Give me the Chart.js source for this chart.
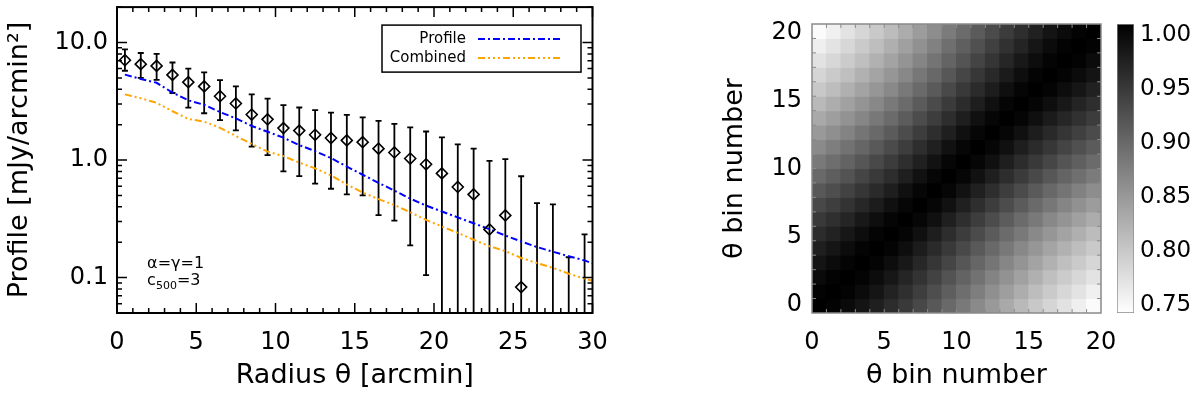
<!DOCTYPE html>
<html>
<head>
<meta charset="utf-8">
<script src="https://cdn.jsdelivr.net/npm/chart.js@4.4.1/dist/chart.umd.min.js"></script>
<style>
  html, body { margin: 0; padding: 0; background: #fff; }
  #wrap { position: relative; width: 1200px; height: 394px; overflow: hidden; }
  #wrap canvas { position: absolute; top: 0; }
</style>
</head>
<body>
<div id="wrap">
  <canvas id="profileChart" width="610" height="394" style="left:0px"></canvas>
  <canvas id="covChart" width="477" height="394" style="left:640px"></canvas>
  <canvas id="barChart" width="100" height="394" style="left:1100px"></canvas>
</div>
<script>
// ---------------- DATA ----------------

// radial bins [arcmin]
const radius = [0.5, 1.5, 2.5, 3.5, 4.5, 5.5, 6.5, 7.5, 8.5, 9.5, 10.5, 11.5, 12.5, 13.5, 14.5,
  15.5, 16.5, 17.5, 18.5, 19.5, 20.5, 21.5, 22.5, 23.5, 24.5, 25.5, 26.5, 27.5, 28.5, 29.5];

// measured profile (null = below the plotted range)
const profileData = [7.07, 6.54, 6.32, 5.30, 4.60, 4.23, 3.49, 3.03, 2.44, 2.22, 1.87, 1.78, 1.64, 1.54, 1.47,
  1.42, 1.25, 1.16, 1.03, 0.92, 0.77, 0.59, 0.51, 0.257, 0.338, 0.083, null, null, null, null];
const errUpper = [8.73, 8.14, 8.0, 6.76, 6.0, 5.57, 4.78, 4.23, 3.62, 3.33, 2.93, 2.80, 2.66, 2.53, 2.42,
  2.31, 2.15, 2.03, 1.90, 1.75, 1.56, 1.36, 1.25, 0.985, 1.02, 0.728, 0.43, 0.42, 0.149, 0.233];
// 0.01 = lower end falls below the axis
const errLower = [5.75, 5.0, 4.8, 3.72, 2.79, 2.5, 2.19, 1.79, 1.30, 1.10, 0.80, 0.73, 0.63, 0.57, 0.51,
  0.50, 0.34, 0.305, 0.188, 0.105, 0.01, 0.01, 0.01, 0.01, 0.01, 0.01, 0.01, 0.01, 0.01, 0.01];

// model curves
const modelRadius = [0.5, 1.5, 2.5, 3.5, 4.5, 5.5, 6.5, 7.5, 8.5, 9.5, 10.5, 11.5, 12.5, 13.5, 14.5,
  15.5, 16.5, 17.5, 18.5, 19.5, 20.5, 21.5, 22.5, 23.5, 24.5, 25.5, 26.5, 27.5, 28.5, 29.5, 30];
const profileModel = [5.33, 4.90, 4.54, 3.75, 3.22, 2.95, 2.56, 2.26, 1.95, 1.74, 1.55, 1.34, 1.19, 1.04, 0.88,
  0.75, 0.64, 0.55, 0.47, 0.41, 0.365, 0.325, 0.29, 0.258, 0.228, 0.203, 0.182, 0.166, 0.152, 0.14, 0.132];
const combinedModel = [3.62, 3.35, 3.07, 2.60, 2.24, 2.12, 1.88, 1.60, 1.37, 1.18, 1.08, 0.95, 0.85, 0.74, 0.62,
  0.53, 0.465, 0.415, 0.36, 0.31, 0.272, 0.24, 0.21, 0.185, 0.168, 0.147, 0.133, 0.121, 0.108, 0.098, 0.094];

const yTickValues = [0.1, 1, 10];
const yTickText = ['0.1', '1.0', '10.0'];

// text labels inside the profile panel: [main, subscript, tail]
const annotText = [['α=γ=1', '', ''], ['c', '500', '=3']];
const annotX = [1.9, 1.9];
const annotY = [0.13, 0.094];

const legendItems = ['Profile', 'Combined'];

// correlation matrix, rows = y bin (0 at bottom), columns = x bin
const binNumbers = [0, 1, 2, 3, 4, 5, 6, 7, 8, 9, 10, 11, 12, 13, 14, 15, 16, 17, 18, 19];
const corrMatrix = [
  [1.000, 0.997, 0.990, 0.980, 0.970, 0.957, 0.944, 0.929, 0.914, 0.897, 0.881, 0.865, 0.850, 0.834, 0.819, 0.804, 0.791, 0.778, 0.766, 0.754],
  [0.997, 1.000, 0.997, 0.989, 0.979, 0.967, 0.954, 0.939, 0.924, 0.908, 0.892, 0.876, 0.860, 0.845, 0.830, 0.815, 0.802, 0.789, 0.777, 0.765],
  [0.990, 0.997, 1.000, 0.996, 0.988, 0.977, 0.964, 0.950, 0.935, 0.919, 0.903, 0.888, 0.872, 0.857, 0.842, 0.827, 0.813, 0.801, 0.789, 0.777],
  [0.980, 0.989, 0.996, 1.000, 0.996, 0.987, 0.976, 0.962, 0.947, 0.932, 0.916, 0.900, 0.885, 0.869, 0.855, 0.840, 0.826, 0.813, 0.802, 0.790],
  [0.970, 0.979, 0.988, 0.996, 1.000, 0.996, 0.986, 0.973, 0.959, 0.944, 0.928, 0.913, 0.897, 0.882, 0.867, 0.853, 0.839, 0.826, 0.814, 0.803],
  [0.957, 0.967, 0.977, 0.987, 0.996, 1.000, 0.995, 0.984, 0.971, 0.956, 0.941, 0.926, 0.911, 0.895, 0.881, 0.866, 0.853, 0.840, 0.828, 0.816],
  [0.944, 0.954, 0.964, 0.976, 0.986, 0.995, 1.000, 0.994, 0.984, 0.970, 0.955, 0.940, 0.925, 0.910, 0.895, 0.881, 0.867, 0.855, 0.843, 0.831],
  [0.929, 0.939, 0.950, 0.962, 0.973, 0.984, 0.994, 1.000, 0.994, 0.983, 0.969, 0.955, 0.940, 0.925, 0.911, 0.896, 0.883, 0.870, 0.858, 0.847],
  [0.914, 0.924, 0.935, 0.947, 0.959, 0.971, 0.984, 0.994, 1.000, 0.994, 0.982, 0.969, 0.955, 0.940, 0.926, 0.912, 0.898, 0.886, 0.874, 0.862],
  [0.897, 0.908, 0.919, 0.932, 0.944, 0.956, 0.970, 0.983, 0.994, 1.000, 0.994, 0.983, 0.970, 0.956, 0.942, 0.928, 0.915, 0.902, 0.891, 0.879],
  [0.881, 0.892, 0.903, 0.916, 0.928, 0.941, 0.955, 0.969, 0.982, 0.994, 1.000, 0.994, 0.984, 0.971, 0.957, 0.944, 0.931, 0.918, 0.907, 0.895],
  [0.865, 0.876, 0.888, 0.900, 0.913, 0.926, 0.940, 0.955, 0.969, 0.983, 0.994, 1.000, 0.994, 0.984, 0.971, 0.958, 0.946, 0.933, 0.922, 0.911],
  [0.850, 0.860, 0.872, 0.885, 0.897, 0.911, 0.925, 0.940, 0.955, 0.970, 0.984, 0.994, 1.000, 0.994, 0.984, 0.972, 0.960, 0.948, 0.937, 0.926],
  [0.834, 0.845, 0.857, 0.869, 0.882, 0.895, 0.910, 0.925, 0.940, 0.956, 0.971, 0.984, 0.994, 1.000, 0.995, 0.985, 0.974, 0.963, 0.952, 0.941],
  [0.819, 0.830, 0.842, 0.855, 0.867, 0.881, 0.895, 0.911, 0.926, 0.942, 0.957, 0.971, 0.984, 0.995, 1.000, 0.995, 0.986, 0.976, 0.965, 0.955],
  [0.804, 0.815, 0.827, 0.840, 0.853, 0.866, 0.881, 0.896, 0.912, 0.928, 0.944, 0.958, 0.972, 0.985, 0.995, 1.000, 0.996, 0.987, 0.978, 0.968],
  [0.791, 0.802, 0.813, 0.826, 0.839, 0.853, 0.867, 0.883, 0.898, 0.915, 0.931, 0.946, 0.960, 0.974, 0.986, 0.996, 1.000, 0.996, 0.989, 0.980],
  [0.778, 0.789, 0.801, 0.813, 0.826, 0.840, 0.855, 0.870, 0.886, 0.902, 0.918, 0.933, 0.948, 0.963, 0.976, 0.987, 0.996, 1.000, 0.997, 0.989],
  [0.766, 0.777, 0.789, 0.802, 0.814, 0.828, 0.843, 0.858, 0.874, 0.891, 0.907, 0.922, 0.937, 0.952, 0.965, 0.978, 0.989, 0.997, 1.000, 0.997],
  [0.754, 0.765, 0.777, 0.790, 0.803, 0.816, 0.831, 0.847, 0.862, 0.879, 0.895, 0.911, 0.926, 0.941, 0.955, 0.968, 0.980, 0.989, 0.997, 1.000]
];
const colorMin = 0.75;
const colorMax = 1.00;

// ---------------- SETUP ----------------

Chart.defaults.font.family = '"DejaVu Sans", sans-serif';
Chart.defaults.font.size = 24;
Chart.defaults.color = '#000';

const titleFont = { size: 27 };

function grayFor(v) {
  const t = Math.min(1, Math.max(0, (v - colorMin) / (colorMax - colorMin)));
  const g = Math.round(255 * (1 - t));
  return `rgb(${g},${g},${g})`;
}

// fix an axis box size and drop chart.js' edge padding for end labels
function fixSize(w, h) {
  return s => {
    if (w !== null) s.width = w;
    if (h !== null) s.height = h;
    s.paddingTop = 0; s.paddingBottom = 0; s.paddingLeft = 0; s.paddingRight = 0;
  };
}

// frame + IDL style inward ticks on all four sides
function frameTicks(cfg) {
  return {
    id: 'frameTicks',
    afterDraw(chart) {
      const { ctx, chartArea: a } = chart;
      const xs = chart.scales[cfg.xId];
      const ys = chart.scales[cfg.yId];
      ctx.save();
      ctx.strokeStyle = cfg.color;
      ctx.lineWidth = cfg.tickWidth;
      ctx.beginPath();
      cfg.xTicks().forEach(([v, major]) => {
        const px = xs.getPixelForValue(v);
        const len = major ? cfg.major : cfg.minor;
        ctx.moveTo(px, a.bottom); ctx.lineTo(px, a.bottom - len);
        ctx.moveTo(px, a.top); ctx.lineTo(px, a.top + len);
      });
      cfg.yTicks().forEach(([v, major]) => {
        const py = ys.getPixelForValue(v);
        const len = major ? cfg.major : cfg.minor;
        ctx.moveTo(a.left, py); ctx.lineTo(a.left + len, py);
        ctx.moveTo(a.right, py); ctx.lineTo(a.right - len, py);
      });
      ctx.stroke();
      ctx.lineWidth = cfg.frameWidth;
      ctx.strokeRect(a.left, a.top, a.right - a.left, a.bottom - a.top);
      ctx.restore();
    }
  };
}

// ---------------- LEFT: PROFILE ----------------

const errorBars = {
  id: 'errorBars',
  beforeDatasetsDraw(chart) {
    const { ctx, chartArea: a, scales: { x, y } } = chart;
    ctx.save();
    ctx.beginPath();
    ctx.rect(a.left, a.top, a.right - a.left, a.bottom - a.top);
    ctx.clip();
    ctx.strokeStyle = '#000';
    ctx.lineWidth = 1.8;
    ctx.beginPath();
    radius.forEach((r, i) => {
      const px = x.getPixelForValue(r);
      const top = y.getPixelForValue(errUpper[i]);
      const bot = y.getPixelForValue(errLower[i]);
      ctx.moveTo(px, top); ctx.lineTo(px, bot);
      ctx.moveTo(px - 3, top); ctx.lineTo(px + 3, top);
      ctx.moveTo(px - 3, bot); ctx.lineTo(px + 3, bot);
    });
    ctx.stroke();
    ctx.restore();
  }
};

const insetLegend = {
  id: 'insetLegend',
  afterDraw(chart) {
    const { ctx, chartArea: a } = chart;
    const w = 199, h = 47;
    const left = a.right - 11.5 - w;
    const top = a.top + 18;
    ctx.save();
    ctx.strokeStyle = '#000';
    ctx.lineWidth = 1.5;
    ctx.strokeRect(left, top, w, h);
    ctx.font = '15px "DejaVu Sans", sans-serif';
    ctx.textAlign = 'right';
    ctx.textBaseline = 'middle';
    ctx.fillStyle = '#000';
    legendItems.forEach((name, k) => {
      const ds = chart.data.datasets.find(d => d.label === name);
      const yy = top + 14 + k * 19;
      ctx.fillText(name, left + 84, yy);
      ctx.strokeStyle = ds.borderColor;
      ctx.lineWidth = ds.borderWidth;
      ctx.setLineDash(ds.borderDash);
      ctx.beginPath();
      ctx.moveTo(left + 96, yy);
      ctx.lineTo(left + 181, yy);
      ctx.stroke();
      ctx.setLineDash([]);
    });
    ctx.restore();
  }
};

const annotations = {
  id: 'annotations',
  afterDraw(chart) {
    const { ctx, scales: { x, y } } = chart;
    ctx.save();
    ctx.textAlign = 'left';
    ctx.textBaseline = 'middle';
    ctx.fillStyle = '#000';
    annotText.forEach(([main, sub, tail], k) => {
      let px = x.getPixelForValue(annotX[k]);
      const py = y.getPixelForValue(annotY[k]);
      ctx.font = '16px "DejaVu Sans", sans-serif';
      ctx.fillText(main, px, py);
      px += ctx.measureText(main).width;
      if (sub) {
        ctx.font = '11px "DejaVu Sans", sans-serif';
        ctx.fillText(sub, px, py + 5);
        px += ctx.measureText(sub).width;
      }
      if (tail) {
        ctx.font = '16px "DejaVu Sans", sans-serif';
        ctx.fillText(tail, px, py);
      }
    });
    ctx.restore();
  }
};

new Chart(document.getElementById('profileChart'), {
  type: 'scatter',
  data: {
    datasets: [
      {
        label: 'Data',
        data: radius.map((r, i) => ({ x: r, y: profileData[i] })),
        pointStyle: 'rectRot',
        pointRadius: 5.5,
        borderColor: '#000',
        borderWidth: 1.6,
        backgroundColor: 'rgba(0,0,0,0)'
      },
      {
        label: 'Profile',
        data: modelRadius.map((r, i) => ({ x: r, y: profileModel[i] })),
        showLine: true,
        pointRadius: 0,
        borderColor: '#0000ff',
        borderWidth: 2,
        borderDash: [7, 3, 2, 3]
      },
      {
        label: 'Combined',
        data: modelRadius.map((r, i) => ({ x: r, y: combinedModel[i] })),
        showLine: true,
        pointRadius: 0,
        borderColor: '#ffa500',
        borderWidth: 2,
        borderDash: [7, 3, 2, 3, 2, 3, 2, 3]
      }
    ]
  },
  options: {
    responsive: false,
    animation: false,
    events: [],
    layout: { padding: { top: 1, right: 17.5, left: 0, bottom: 0 } },
    plugins: { legend: { display: false }, tooltip: { enabled: false } },
    scales: {
      x: {
        type: 'linear', min: 0, max: 30,
        grid: { display: false, drawTicks: false },
        border: { display: false },
        ticks: { stepSize: 5, maxRotation: 0, padding: 15 },
        title: { display: true, text: 'Radius θ [arcmin]', font: titleFont, padding: { top: 0, bottom: 2 } },
        afterFit: fixSize(null, 81)
      },
      y: {
        type: 'logarithmic', min: 0.05, max: 20,
        grid: { display: false, drawTicks: false },
        border: { display: false },
        afterBuildTicks: s => { s.ticks = yTickValues.map(v => ({ value: v })); },
        ticks: { padding: 9, autoSkip: false, callback: v => yTickText[yTickValues.indexOf(v)] },
        title: { display: true, text: 'Profile [mJy/arcmin²]', font: titleFont, padding: { top: 4, bottom: 0 } },
        afterFit: fixSize(117, null)
      }
    }
  },
  plugins: [
    errorBars, insetLegend, annotations,
    frameTicks({
      xId: 'x', yId: 'y', color: '#000', tickWidth: 1.5, frameWidth: 2, major: 10, minor: 5,
      xTicks: () => { const out = []; for (let v = 0; v <= 30; v++) out.push([v, v % 5 === 0]); return out; },
      yTicks: () => {
        const out = [];
        for (let e = -2; e <= 1; e++) {
          for (let m = 1; m <= 9; m++) {
            const v = m * Math.pow(10, e);
            if (v >= 0.05 && v <= 20) out.push([v, m === 1]);
          }
        }
        return out;
      }
    })
  ]
});

// ---------------- RIGHT: CORRELATION MATRIX ----------------

const cells = [];
corrMatrix.forEach((row, j) => {
  row.forEach((v, i) => {
    cells.push({ x: binNumbers[i] + 0.5, y: [binNumbers[j], binNumbers[j] + 1], v });
  });
});

new Chart(document.getElementById('covChart'), {
  type: 'bar',
  data: {
    datasets: [{
      data: cells,
      backgroundColor: c => (c.raw ? grayFor(c.raw.v) : '#000'),
      borderWidth: 0,
      inflateAmount: 0.5,
      barPercentage: 1,
      categoryPercentage: 1
    }]
  },
  options: {
    responsive: false,
    animation: false,
    events: [],
    layout: { padding: { top: 24, right: 16, left: 0, bottom: 0 } },
    plugins: { legend: { display: false }, tooltip: { enabled: false } },
    scales: {
      x: {
        type: 'linear', min: 0, max: 20, offset: false,
        grid: { display: false, drawTicks: false, offset: false },
        border: { display: false },
        ticks: { stepSize: 5, maxRotation: 0, padding: 15 },
        title: { display: true, text: 'θ bin number', font: titleFont, padding: { top: 0, bottom: 2 } },
        afterFit: fixSize(null, 81)
      },
      y: { type: 'linear', min: 0, max: 20, display: false },
      yl: {
        type: 'linear', position: 'left', min: -0.59, max: 20.66,
        grid: { display: false, drawTicks: false },
        border: { display: false },
        ticks: { stepSize: 5, includeBounds: false, padding: 10, callback: v => String(Math.round(v)) },
        title: { display: true, text: 'θ bin number', font: titleFont, padding: { top: 79, bottom: 0 } },
        afterFit: fixSize(172, null)
      }
    }
  },
  plugins: [
    frameTicks({
      xId: 'x', yId: 'y', color: '#8a8a8a', tickWidth: 1, frameWidth: 1.5, major: 4, minor: 4,
      xTicks: () => { const out = []; for (let v = 1; v < 20; v++) out.push([v, false]); return out; },
      yTicks: () => { const out = []; for (let v = 1; v < 20; v++) out.push([v, false]); return out; }
    })
  ]
});

// ---------------- COLOUR BAR ----------------

new Chart(document.getElementById('barChart'), {
  type: 'bar',
  data: {
    labels: ['corr'],
    datasets: [{
      data: [[colorMin, colorMax]],
      backgroundColor: c => {
        const ch = c.chart;
        if (!ch.chartArea) return '#888';
        const ys = ch.scales.y;
        const g = ch.ctx.createLinearGradient(0, ys.getPixelForValue(colorMin), 0, ys.getPixelForValue(colorMax));
        g.addColorStop(0, grayFor(colorMin));
        g.addColorStop(1, grayFor(colorMax));
        return g;
      },
      borderColor: '#8a8a8a',
      borderWidth: 1,
      borderSkipped: false,
      barPercentage: 1,
      categoryPercentage: 1
    }]
  },
  options: {
    responsive: false,
    animation: false,
    events: [],
    layout: { padding: { top: 24, right: 0, left: 17, bottom: 81 } },
    plugins: { legend: { display: false }, tooltip: { enabled: false } },
    scales: {
      x: { display: false },
      y: { type: 'linear', min: colorMin, max: colorMax, display: false },
      yl: {
        type: 'linear', position: 'right', min: 0.7426, max: 1.0102,
        grid: { display: false, drawTicks: false },
        border: { display: false },
        ticks: { stepSize: 0.05, includeBounds: false, padding: 6, font: { size: 23 }, callback: v => v.toFixed(2) },
        afterFit: fixSize(66, null)
      }
    }
  }
});
</script>
</body>
</html>
